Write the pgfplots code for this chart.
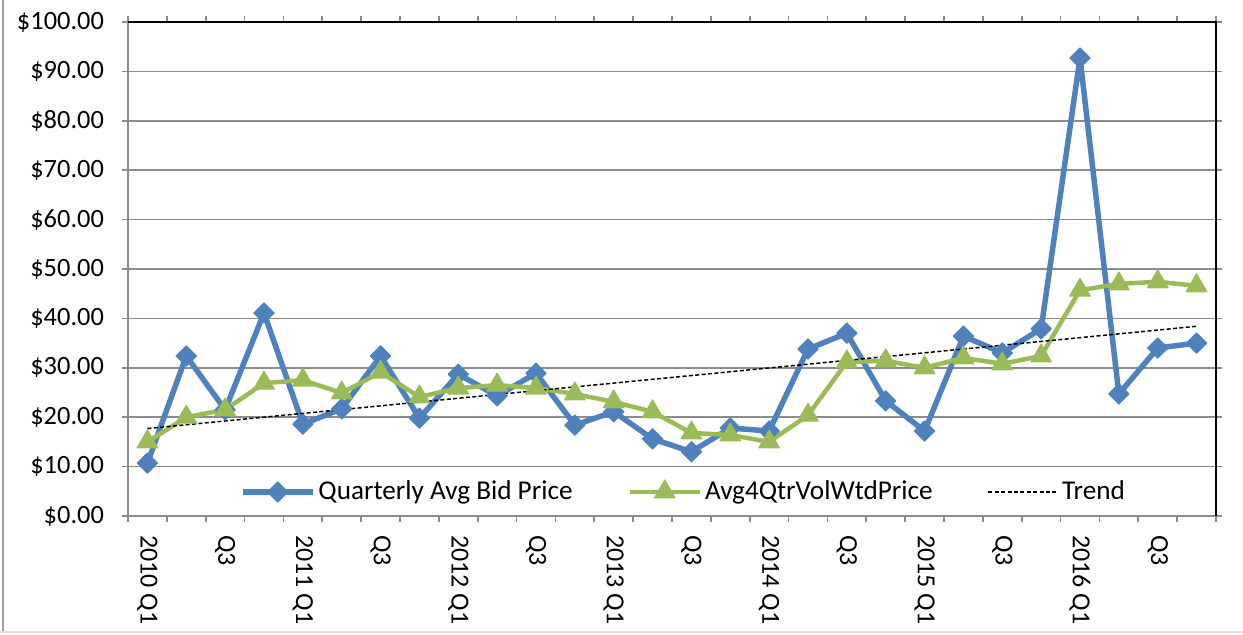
\documentclass[border=0pt]{standalone}
\usepackage{fontspec}
\setmainfont{Carlito}
\usepackage{pgfplots}
\pgfplotsset{compat=1.18}
\definecolor{cblue}{HTML}{4F81BD}
\definecolor{cgreen}{HTML}{9BBB59}
\definecolor{gridgray}{HTML}{8C8C8C}
\begin{document}
\begin{tikzpicture}[x=1pt,y=1pt]
\path[use as bounding box] (-64,-59.5) rectangle (557.5,258);
\draw[color=gray!75, line width=0.8pt] (-62.5,-58) -- (-62.5,300);
\draw[color=gray!25, line width=0.8pt] (-70,-58) -- (600,-58);
\begin{axis}[
 at={(0,0)}, anchor=south west,
 scale only axis, width=544pt, height=247pt,
 xmin=0.5, xmax=28.5, ymin=0, ymax=100,
 ytick={0,10,...,100},
 yticklabels={\$0.00,\$10.00,\$20.00,\$30.00,\$40.00,\$50.00,\$60.00,\$70.00,\$80.00,\$90.00,\$100.00},
 xtick={0.5,1.5,...,28.5},
 xticklabels={},
 extra x ticks={1,3,...,27},
 extra x tick labels={2010 Q1,Q3,2011 Q1,Q3,2012 Q1,Q3,2013 Q1,Q3,2014 Q1,Q3,2015 Q1,Q3,2016 Q1,Q3},
 extra x tick style={major tick length=0pt, grid=none},
 xticklabel style={rotate=-90, anchor=west, xshift=6pt, font=\fontsize{13}{15}\selectfont},
 yticklabel style={xshift=-5.5pt, font=\fontsize{13.2}{15}\selectfont},
 tick align=outside, major tick length=3pt,
 tick style={gridgray, line width=0.8pt},
 ymajorgrids, grid style={gridgray, line width=0.8pt},
 axis line style={gridgray, line width=0.8pt},
 clip=false,
 legend columns=3,
 legend cell align=left,
 legend style={draw=none, fill=none, at={(rel axis cs:0.511,0.0486)}, anchor=center,
   font=\fontsize{13.6}{16}\selectfont,
   /tikz/every even column/.append style={column sep=26pt},
   nodes={inner sep=1.5pt}},
 legend image code/.code={\draw[mark repeat=2,mark phase=2,#1] plot coordinates {(0pt,0pt) (17.5pt,0pt) (35pt,0pt)};},
]
\addplot[cblue, line width=2.75pt, line join=round, mark=square*, mark size=3.6pt, mark options={rotate=45, line width=0.5pt}] coordinates {
(1,10.7) (2,32.4) (3,21.5) (4,41.1) (5,18.6) (6,21.7) (7,32.4) (8,19.8)
(9,28.7) (10,24.3) (11,28.9) (12,18.4) (13,21.1) (14,15.6) (15,13.0) (16,17.8)
(17,17.2) (18,33.8) (19,37.0) (20,23.3) (21,17.2) (22,36.4) (23,33.0) (24,37.9)
(25,92.7) (26,24.7) (27,34.0) (28,35.0)};
\addlegendentry{Quarterly Avg Bid Price}
\addplot[cgreen, line width=2.25pt, line join=round, mark=triangle*, mark size=6pt, mark options={line width=0.5pt}] coordinates {
(1,15.0) (2,20.0) (3,21.5) (4,26.9) (5,27.5) (6,24.9) (7,29.1) (8,24.1)
(9,25.9) (10,26.5) (11,25.9) (12,24.7) (13,23.1) (14,21.1) (15,16.8) (16,16.4)
(17,15.0) (18,20.4) (19,31.2) (20,31.4) (21,30.0) (22,32.0) (23,30.8) (24,32.4)
(25,45.7) (26,47.0) (27,47.4) (28,46.6)};
\addlegendentry{Avg4QtrVolWtdPrice}
\addplot[black, line width=0.75pt, dash pattern=on 2pt off 1.2pt] coordinates {(1,17.7) (28,38.4)};
\addlegendentry{Trend}
\draw[black, line width=1pt] (rel axis cs:0,1) -- (rel axis cs:1,1) -- (rel axis cs:1,0);
\end{axis}
\end{tikzpicture}
\end{document}
